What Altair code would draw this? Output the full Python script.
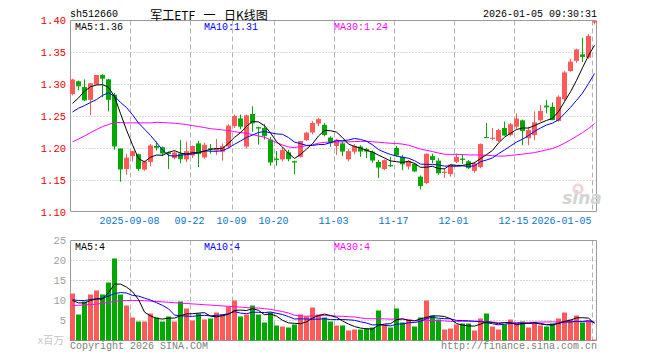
import altair as alt
import numpy as np
import pandas as pd

# ---------------- data ----------------
opens = [1.285, 1.305, 1.296, 1.276, 1.300, 1.315, 1.308, 1.284, 1.200, 1.168,
         1.188, 1.191, 1.167, 1.179, 1.204, 1.202, 1.194, 1.185, 1.192, 1.183,
         1.189, 1.208, 1.186, 1.200, 1.197, 1.195, 1.203, 1.235, 1.247, 1.203,
         1.254, 1.233, 1.232, 1.214, 1.184, 1.183, 1.194, 1.180, 1.187, 1.213,
         1.225, 1.239, 1.237, 1.217, 1.204, 1.208, 1.183, 1.195, 1.203, 1.199,
         1.195, 1.179, 1.168, 1.174, 1.201, 1.187, 1.172, 1.176, 1.156, 1.146,
         1.188, 1.181, 1.162, 1.160, 1.179, 1.184, 1.180, 1.165, 1.171, 1.218,
         1.215, 1.212, 1.232, 1.221, 1.234, 1.244, 1.216, 1.221, 1.244, 1.267,
         1.265, 1.243, 1.277, 1.321, 1.337, 1.347, 1.342, 1.397]
highs = [1.309, 1.306, 1.308, 1.302, 1.315, 1.316, 1.309, 1.287, 1.200, 1.192,
         1.196, 1.192, 1.181, 1.207, 1.211, 1.203, 1.195, 1.196, 1.213, 1.211,
         1.205, 1.212, 1.209, 1.207, 1.215, 1.208, 1.238, 1.253, 1.253, 1.253,
         1.266, 1.234, 1.238, 1.218, 1.196, 1.202, 1.198, 1.181, 1.212, 1.226,
         1.243, 1.248, 1.240, 1.219, 1.215, 1.211, 1.199, 1.207, 1.205, 1.201,
         1.197, 1.182, 1.183, 1.187, 1.204, 1.190, 1.182, 1.177, 1.158, 1.192,
         1.192, 1.185, 1.169, 1.176, 1.192, 1.191, 1.182, 1.179, 1.208, 1.240,
         1.232, 1.231, 1.242, 1.240, 1.255, 1.245, 1.234, 1.258, 1.268, 1.276,
         1.272, 1.283, 1.321, 1.340, 1.356, 1.373, 1.379, 1.400]
lows = [1.283, 1.291, 1.274, 1.252, 1.299, 1.280, 1.258, 1.198, 1.148, 1.159,
        1.180, 1.165, 1.165, 1.172, 1.197, 1.188, 1.168, 1.183, 1.177, 1.179,
        1.185, 1.171, 1.184, 1.192, 1.190, 1.181, 1.200, 1.232, 1.230, 1.200,
        1.226, 1.206, 1.214, 1.173, 1.173, 1.180, 1.180, 1.160, 1.186, 1.212,
        1.222, 1.235, 1.219, 1.203, 1.190, 1.188, 1.180, 1.191, 1.187, 1.185,
        1.178, 1.154, 1.166, 1.171, 1.187, 1.166, 1.167, 1.163, 1.136, 1.144,
        1.177, 1.159, 1.154, 1.156, 1.177, 1.176, 1.168, 1.162, 1.169, 1.217,
        1.213, 1.210, 1.220, 1.219, 1.230, 1.205, 1.205, 1.213, 1.242, 1.255,
        1.245, 1.242, 1.274, 1.320, 1.334, 1.335, 1.340, 1.394]
closes = [1.307, 1.298, 1.276, 1.301, 1.314, 1.310, 1.277, 1.204, 1.168, 1.185,
          1.195, 1.169, 1.179, 1.204, 1.202, 1.193, 1.192, 1.193, 1.184, 1.195,
          1.203, 1.192, 1.205, 1.199, 1.200, 1.203, 1.235, 1.250, 1.235, 1.251,
          1.240, 1.232, 1.220, 1.179, 1.183, 1.197, 1.184, 1.179, 1.211, 1.224,
          1.239, 1.245, 1.222, 1.209, 1.213, 1.196, 1.195, 1.203, 1.196, 1.196,
          1.182, 1.171, 1.181, 1.173, 1.190, 1.176, 1.180, 1.165, 1.142, 1.191,
          1.183, 1.162, 1.163, 1.174, 1.186, 1.183, 1.170, 1.176, 1.206, 1.217,
          1.216, 1.228, 1.221, 1.237, 1.246, 1.228, 1.228, 1.240, 1.258, 1.265,
          1.245, 1.280, 1.318, 1.335, 1.354, 1.344, 1.375, 1.398]
volumes = [11.75, 6.5, 9.75, 11.5, 12.5, 11.5, 14.5, 20.5, 11.5, 8.75,
           5.75, 4.75, 4.75, 6.75, 5.75, 4.75, 6.0, 4.75, 9.75, 8.0,
           5.0, 6.75, 5.25, 5.5, 7.0, 6.5, 8.5, 10.0, 6.0, 6.5,
           8.75, 6.5, 4.5, 7.0, 3.75, 3.5, 3.25, 4.0, 6.5, 6.0,
           8.25, 6.5, 5.75, 4.75, 3.75, 3.75, 2.5, 2.75, 2.75, 3.0,
           3.25, 7.5, 4.0, 3.25, 8.0, 4.5, 5.25, 3.5, 5.75, 10.0,
           6.25, 5.25, 2.75, 3.0, 4.0, 4.25, 4.25, 2.5, 5.5, 6.75,
           3.5, 2.75, 4.0, 5.25, 4.25, 4.75, 3.25, 4.5, 3.75, 3.5,
           4.25, 5.5, 7.0, 5.25, 6.25, 4.5, 5.0, 0.25]

# moving-average values visible before a full window of candles exists
ma5_head = [1.2705, 1.279, 1.2895, 1.2964]
ma10_head = [1.257, 1.263, 1.267, 1.272, 1.2764, 1.283, 1.287, 1.2816, 1.272]
ma30_head = [1.2105, 1.2148, 1.2195, 1.2248, 1.2295, 1.2343, 1.2374, 1.2406, 1.2406,
             1.2400, 1.2400, 1.2400, 1.2400, 1.2400, 1.2409, 1.2406, 1.2400, 1.2395,
             1.2385, 1.2374, 1.2358, 1.2343, 1.2327, 1.2310, 1.2300, 1.2290, 1.2280,
             1.2264, 1.2248]
vma5_head = [10.0, 9.4, 9.4, 10.0]
vma10_head = [10.2, 10.0, 10.0, 10.25, 10.4, 10.6, 11.1, 11.7, 12.0]
vma30_head = [8.75, 8.8, 8.9, 9.0, 9.1, 9.3, 9.5, 9.8, 9.9, 10.0, 10.0, 10.0,
              9.95, 9.85, 9.75, 9.65, 9.55, 9.45, 9.35, 9.25, 9.15, 9.05, 8.95,
              8.85, 8.75, 8.65, 8.55, 8.45, 8.35]

tick_idx = [10, 20, 27, 34, 44, 54, 64, 74, 87]
tick_labels = ["2025-09-08", "09-22", "10-09", "10-20", "11-03", "11-17",
               "12-01", "12-15", "2026-01-05"]
price_ticks = [1.10, 1.15, 1.20, 1.25, 1.30, 1.35, 1.40]
price_grid = [1.15, 1.20, 1.25, 1.30, 1.35]
vol_ticks = [5, 10, 15, 20, 25]
vol_grid = [5, 10, 15, 20]

code_txt = "sh512660"
title_txt = "军工ETF\u2002\u2009一\u2002\u2009日K线图"
time_txt = "2026-01-05 09:30:31"
ma_price_txt = ["MA5:1.36", "MA10:1.31", "MA30:1.24"]
ma_vol_txt = ["MA5:4", "MA10:4", "MA30:4"]
unit_txt = "x百万"
copy_txt = "Copyright 2026 SINA.COM"
url_txt = "http://finance.sina.com.cn"

# ---------------- styles ----------------
RED = "#ff5a5a"
GREEN = "#00a800"
MONO = "Liberation Mono"
CJK = "Noto Sans CJK SC"
GRID = "#b4b4b4"
FRAME = "#9a9a9a"
FS = 10

n = len(closes)
df = pd.DataFrame({"idx": np.arange(n), "o": opens, "h": highs, "l": lows,
                   "c": closes, "v": volumes})
df["col"] = np.where(df["c"] >= df["o"], RED, GREEN)
df["xl"] = df["idx"] - 5 / 12
df["xr"] = df["idx"] + 5 / 12


def moving(values, w, head):
    m = pd.Series(values, dtype=float).rolling(w).mean()
    m.iloc[: w - 1] = head
    return m.values


df["ma5"] = moving(closes, 5, ma5_head)
df["ma10"] = moving(closes, 10, ma10_head)
df["ma30"] = moving(closes, 30, ma30_head)
df["vma5"] = moving(volumes, 5, vma5_head)
df["vma10"] = moving(volumes, 10, vma10_head)
df["vma30"] = moving(volumes, 30, vma30_head)

ticks_df = pd.DataFrame({"pos": np.array(tick_idx) - 1 / 3, "lab": tick_labels})

# ---------------- scales ----------------
xs = alt.Scale(domain=[0, n - 1], range=[64.5, 64.5 + 6 * (n - 1)], nice=False, zero=False)
ys_p = alt.Scale(domain=[1.10, 1.40], range=[204.5, 12.5], nice=False, zero=False)
ys_v = alt.Scale(domain=[0, 25], range=[332.5, 232.5], nice=False, zero=False)

X = lambda f: alt.X(f, type="quantitative", scale=xs, axis=None)
YP = lambda f: alt.Y(f, type="quantitative", scale=ys_p, axis=None)
YV = lambda f: alt.Y(f, type="quantitative", scale=ys_v, axis=None)
one = alt.Data(values=[{"a": 1}])

# ---------------- price panel ----------------
p_hgrid = alt.Chart(pd.DataFrame({"p": price_grid})).mark_rule(
    color=GRID, strokeDash=[1, 2], strokeWidth=1).encode(
    y=YP("p"), x=alt.value(62.5), x2=alt.value(588.5))
p_vgrid = alt.Chart(ticks_df).mark_rule(color=GRID, strokeDash=[5, 3], strokeWidth=1).encode(
    x=X("pos"), y=alt.value(12.5), y2=alt.value(203.5))
p_frame = alt.Chart(one).mark_rect(fillOpacity=0, stroke=FRAME, strokeWidth=1).encode(
    x=alt.value(62.5), x2=alt.value(588.5), y=alt.value(12.5), y2=alt.value(203.5))

base = alt.Chart(df)
wick = base.mark_rule(strokeWidth=1).encode(
    x=X("idx"), y=YP("l"), y2=alt.Y2("h"), color=alt.Color("col:N", scale=None))
body = base.mark_rect().encode(
    x=X("xl"), x2=alt.X2("xr"), y=YP("o"), y2=alt.Y2("c"),
    color=alt.Color("col:N", scale=None))
doji = base.mark_rule(strokeWidth=1).encode(
    x=X("xl"), x2=alt.X2("xr"), y=YP("c"), color=alt.Color("col:N", scale=None))
ma5_l = base.mark_line(color="#000000", strokeWidth=1).encode(x=X("idx"), y=YP("ma5"))
ma10_l = base.mark_line(color="#0000ff", strokeWidth=1).encode(x=X("idx"), y=YP("ma10"))
ma30_l = base.mark_line(color="#ff00ff", strokeWidth=1).encode(x=X("idx"), y=YP("ma30"))
p_labels = alt.Chart(pd.DataFrame({"p": price_ticks})).mark_text(
    align="right", baseline="middle", font=MONO, fontSize=10.5, color="#ee0000").encode(
    y=YP("p"), x=alt.value(58), text=alt.Text("p:Q", format=".2f"))

price = alt.layer(p_hgrid, p_vgrid, p_frame, wick, body, doji,
                  ma30_l, ma10_l, ma5_l, p_labels)

# ---------------- volume panel ----------------
v_hgrid = alt.Chart(pd.DataFrame({"v": vol_grid})).mark_rule(
    color=GRID, strokeDash=[1, 2], strokeWidth=1).encode(
    y=YV("v"), x=alt.value(62.5), x2=alt.value(588.5))
v_vgrid = alt.Chart(ticks_df).mark_rule(color=GRID, strokeDash=[5, 3], strokeWidth=1).encode(
    x=X("pos"), y=alt.value(232.5), y2=alt.value(332.5))
v_frame = alt.Chart(one).mark_rect(fillOpacity=0, stroke=FRAME, strokeWidth=1).encode(
    x=alt.value(62.5), x2=alt.value(588.5), y=alt.value(232.5), y2=alt.value(332.5))
vbar = base.mark_rect().encode(
    x=X("xl"), x2=alt.X2("xr"), y=YV("v"), y2=alt.datum(0),
    color=alt.Color("col:N", scale=None))
vma5_l = base.mark_line(color="#000000", strokeWidth=1).encode(x=X("idx"), y=YV("vma5"))
vma10_l = base.mark_line(color="#0000ff", strokeWidth=1).encode(x=X("idx"), y=YV("vma10"))
vma30_l = base.mark_line(color="#ff00ff", strokeWidth=1).encode(x=X("idx"), y=YV("vma30"))
v_labels = alt.Chart(pd.DataFrame({"v": vol_ticks})).mark_text(
    align="right", baseline="middle", font=MONO, fontSize=10.5, color="#a0a0a0").encode(
    y=YV("v"), x=alt.value(58), text=alt.Text("v:Q", format="d"))

volume = alt.layer(v_hgrid, v_vgrid, v_frame, vbar, vma30_l, vma10_l, vma5_l, v_labels)

# ---------------- decorations / texts ----------------
def txt(s, x, y, color="#000000", align="left", font=MONO, size=FS, **kw):
    return alt.Chart(one).mark_text(text=s, align=align, baseline="middle", font=font,
                                    fontSize=size, color=color, **kw).encode(
        x=alt.value(x), y=alt.value(y))


xlab_mid = alt.Chart(ticks_df.iloc[:-1]).mark_text(
    align="center", baseline="middle", font=MONO, fontSize=FS, color="#0a74d0", dx=-1).encode(
    x=X("pos"), y=alt.value(213), text="lab:N")
xlab_last = alt.Chart(ticks_df.iloc[-1:]).mark_text(
    align="right", baseline="middle", font=MONO, fontSize=FS, color="#0a74d0", dx=-1).encode(
    x=X("pos"), y=alt.value(213), text="lab:N")

decor = alt.layer(
    xlab_mid, xlab_last,
    txt(code_txt, 62, 6),
    txt(title_txt, 201, 8, align="center", font=CJK, size=12),
    txt(time_txt, 589, 6, align="right"),
    txt(ma_price_txt[0], 67, 19),
    txt(ma_price_txt[1], 196, 19, color="#0000ff"),
    txt(ma_price_txt[2], 326, 19, color="#ff00ff"),
    txt(ma_vol_txt[0], 67, 239),
    txt(ma_vol_txt[1], 196, 239, color="#0000ff"),
    txt(ma_vol_txt[2], 326, 239, color="#ff00ff"),
    txt(unit_txt, 56, 333, color="#c8c8c8", align="right", font=CJK, size=10.5),
    txt(copy_txt, 62, 338, color="#808080"),
    txt(url_txt, 589, 338, color="#808080", align="right"),
    alt.Chart(one).mark_point(shape="circle", size=70, filled=False, color="#f0c4c4",
                              strokeWidth=3).encode(x=alt.value(570), y=alt.value(181)),
    txt("sina", 574, 191, color="#d4d4d4", align="center", font="DejaVu Sans",
        size=17, fontStyle="italic", fontWeight="bold"),
)

chart = alt.layer(price, volume, decor).resolve_scale(y="independent").properties(
    width=644, height=344, padding=0,
    autosize=alt.AutoSizeParams(type="none"),
).configure_view(strokeWidth=0)

chart.save("out.html", embed_options={"renderer": "svg", "actions": False})
